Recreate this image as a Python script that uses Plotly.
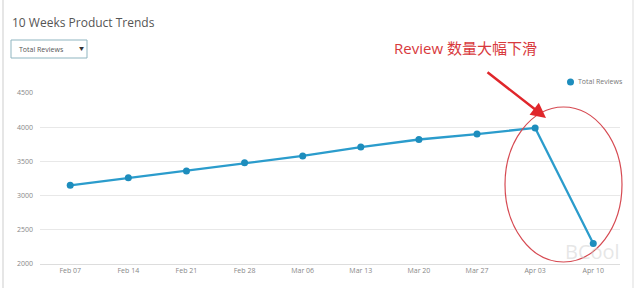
import plotly.graph_objects as go

weeks = ["Feb 07", "Feb 14", "Feb 21", "Feb 28", "Mar 06", "Mar 13", "Mar 20", "Mar 27", "Apr 03", "Apr 10"]
total_reviews = [3150, 3260, 3360, 3480, 3580, 3710, 3820, 3900, 3990, 2300]
y_ticks = [2000, 2500, 3000, 3500, 4000, 4500]
series_name = "Total Reviews"

L, R, T, B = 40, 20, 93, 24
W, H = 640, 288
pw, ph = W - L - R, H - T - B

def px(x):
    return (x - L) / pw

def py(y):
    return (H - B - y) / ph

line_color = "#2b9ccc"
marker_color = "#1d8dbd"

fig = go.Figure()
fig.add_trace(go.Scatter(
    x=weeks, y=total_reviews, mode="lines+markers", name=series_name,
    line=dict(color=line_color, width=2.3),
    marker=dict(color=marker_color, size=7),
    showlegend=False,
))

fig.update_layout(
    width=W, height=H,
    margin=dict(l=L, r=R, t=T, b=B),
    paper_bgcolor="white", plot_bgcolor="white",
    font=dict(family="Open Sans, Noto Sans CJK SC", color="#777", size=7),
    showlegend=False,
    xaxis=dict(type="category", range=[-0.52, 9.46], showgrid=False,
               showline=True, linecolor="#ddd", ticks="", tickfont=dict(size=7, color="#888"),
               fixedrange=True),
    yaxis=dict(range=[2000, 4500], tickvals=y_ticks, showgrid=True, gridcolor="#e8e8e8",
               zeroline=False, showline=False, tickfont=dict(size=7, color="#888"),
               ticklabelstandoff=6),
)

shapes = [
    dict(type="rect", xref="paper", yref="paper", x0=px(11), x1=px(87), y0=py(58), y1=py(40),
         line=dict(color="#8fb5c0", width=1), fillcolor="white", layer="above"),
    dict(type="circle", xref="paper", yref="paper", x0=px(505), x1=px(622), y0=py(262), y1=py(107),
         line=dict(color="#d64a52", width=1.2)),
    dict(type="circle", xref="paper", yref="paper", x0=px(567), x1=px(574), y0=py(85.5), y1=py(78.5),
         line=dict(width=0), fillcolor=marker_color),
    dict(type="line", xref="paper", yref="paper", x0=px(3), x1=px(3), y0=py(0), y1=py(288),
         line=dict(color="#e6e6e6", width=2)),
    dict(type="line", xref="paper", yref="paper", x0=px(633), x1=px(633), y0=py(0), y1=py(288),
         line=dict(color="#eeeeee", width=2)),
]
fig.update_layout(shapes=shapes)

annotations = [
    dict(text="10 Weeks Product Trends", xref="paper", yref="paper", x=px(10), y=py(22),
         xanchor="left", yanchor="middle", showarrow=False, font=dict(size=12, color="#555")),
    dict(text="Total Reviews", xref="paper", yref="paper", x=px(17), y=py(49),
         xanchor="left", yanchor="middle", showarrow=False, font=dict(size=7, color="#555")),
    dict(text="▼", xref="paper", yref="paper", x=px(81), y=py(48),
         xanchor="center", yanchor="middle", showarrow=False, font=dict(size=5, color="#333")),
    dict(text=series_name, xref="paper", yref="paper", x=px(576), y=py(82),
         xanchor="left", yanchor="middle", showarrow=False, font=dict(size=7, color="#777")),
    dict(text="Review 数量大幅下滑", xref="paper", yref="paper", x=px(465), y=py(48),
         xanchor="center", yanchor="middle", showarrow=False,
         font=dict(size=15, color="#d8393c", family="Open Sans, Noto Sans CJK SC")),
    dict(text="", xref="paper", yref="paper", x=px(546), y=py(118), ax=-60, ay=-47,
         showarrow=True, arrowhead=2, arrowsize=1.2, arrowwidth=2.5, arrowcolor="#e0262b"),
    dict(text="BCool", xref="paper", yref="paper", x=px(592), y=py(251),
         xanchor="center", yanchor="middle", showarrow=False,
         font=dict(size=20, color="rgba(205,205,205,0.5)")),
]
fig.update_layout(annotations=annotations)

fig.write_html("out.html")
